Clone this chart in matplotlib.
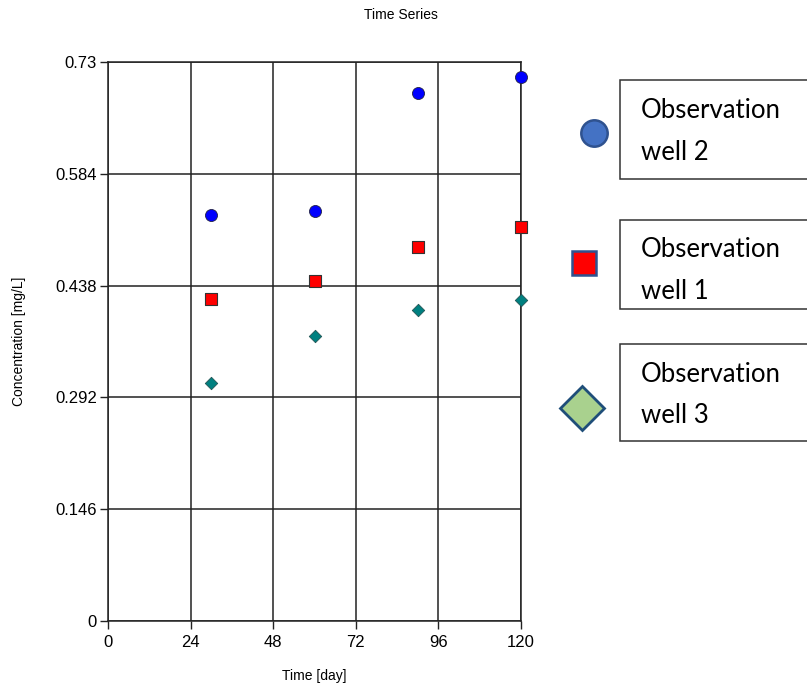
import matplotlib
matplotlib.use("Agg")
import matplotlib.pyplot as plt
from matplotlib.patches import Rectangle

# Data
time_days = [30, 60, 90, 120]
well2 = [0.530, 0.535, 0.689, 0.711]
well1 = [0.420, 0.444, 0.488, 0.514]
well3 = [0.311, 0.372, 0.406, 0.419]
x_ticks = [0, 24, 48, 72, 96, 120]
y_ticks = [0, 0.146, 0.292, 0.438, 0.584, 0.73]
y_tick_labels = ["0", "0.146", "0.292", "0.438", "0.584", "0.73"]
legend_line1 = ["Observation", "Observation", "Observation"]
legend_line2 = ["well 2", "well 1", "well 3"]

W, H = 807, 690
fig = plt.figure(figsize=(W / 100, H / 100), dpi=100)
plt.rcParams['font.family'] = ['Liberation Sans', 'DejaVu Sans']

# main axes: left 108, right 521, top 62, bottom 621 (pixels)
l, r, t, b = 108, 521, 62, 621
ax = fig.add_axes([l / W, 1 - b / H, (r - l) / W, (b - t) / H])
ax.set_xlim(0, 120)
ax.set_ylim(0, 0.73)
ax.set_xticks(x_ticks)
ax.set_yticks(y_ticks)
ax.set_yticklabels(y_tick_labels)
ax.grid(True, color='#222222', linewidth=1.1)
ax.set_axisbelow(True)
for s in ax.spines.values():
    s.set_color('#222222')
    s.set_linewidth(1.1)
ax.tick_params(direction='out', length=5.5, width=1, color='#222222', labelsize=12, pad=2.5)
ax.tick_params(axis='x', pad=4.5)

ax.scatter(time_days, well2, marker='o', s=75, color='#0000FF', edgecolors='#222244', linewidths=0.6, zorder=5, clip_on=False)
ax.scatter(time_days, well1, marker='s', s=75, color='#FF0000', edgecolors='#333333', linewidths=0.8, zorder=5, clip_on=False)
ax.scatter(time_days, well3, marker='D', s=40, color='#008080', edgecolors='#225555', linewidths=0.6, zorder=5, clip_on=False)

ax.set_xlabel("Time [day]", fontsize=10, labelpad=14)
ax.set_ylabel("Concentration [mg/L]", fontsize=10, labelpad=21)
fig.text(401 / W, 1 - 15 / H, "Time Series", fontsize=10, ha='center', va='center')

# Legend overlay in pixel coordinates
ov = fig.add_axes([0, 0, 1, 1])
ov.set_xlim(0, W)
ov.set_ylim(H, 0)
ov.axis('off')
ov.patch.set_alpha(0)

boxes = [(620, 80, 179), (620, 220, 309), (620, 344, 441)]
baselines = [(118, 160), (257, 299), (382, 423)]
for (bx, by0, by1), (y1, y2), t1, t2 in zip(boxes, baselines, legend_line1, legend_line2):
    ov.add_patch(Rectangle((bx, by0), 200, by1 - by0, facecolor='white', edgecolor='#333333', linewidth=1.1))
    ov.text(641, y1, t1, fontsize=18.5, family=['Lato', 'DejaVu Sans'], ha='left', va='baseline')
    ov.text(641, y2, t2, fontsize=18.5, family=['Lato', 'DejaVu Sans'], ha='left', va='baseline')

ov.plot([594], [133], marker='o', markersize=19, color='#4472C4', markeredgecolor='#2F528F', markeredgewidth=1.8)
ov.plot([584], [263], marker='s', markersize=17, color='#FF0000', markeredgecolor='#2F528F', markeredgewidth=1.8)
ov.plot([582], [408], marker='D', markersize=22, color='#A9D18E', markeredgecolor='#1F4E79', markeredgewidth=2)

fig.savefig("out.png", dpi=100)
